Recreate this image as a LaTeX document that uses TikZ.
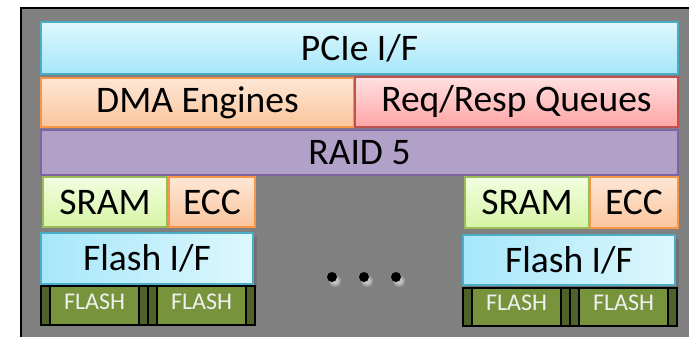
\documentclass[tikz,border=0pt]{standalone}
\usepackage{fontspec}
\setmainfont{Carlito}
\definecolor{panelgray}{HTML}{808080}
\definecolor{cyanTop}{HTML}{DEF7FD}
\definecolor{cyanBot}{HTML}{A6E7FA}
\definecolor{cyanEdge}{HTML}{4BACC6}
\definecolor{orTop}{HTML}{FDE7D6}
\definecolor{orBot}{HTML}{FBC59C}
\definecolor{orEdge}{HTML}{F79646}
\definecolor{pkTop}{HTML}{FFE1E1}
\definecolor{pkBot}{HTML}{FFA4A4}
\definecolor{pkEdge}{HTML}{C0504D}
\definecolor{raidFill}{HTML}{B1A0C7}
\definecolor{raidEdge}{HTML}{8064A2}
\definecolor{grTop}{HTML}{F2FDE0}
\definecolor{grBot}{HTML}{D6F5A5}
\definecolor{grEdge}{HTML}{9BBB59}
\definecolor{flashFill}{HTML}{77933C}
\definecolor{flashEnd}{HTML}{4F6228}
\tikzset{
  blk/.style={draw, line width=2pt, inner sep=0pt, outer sep=0pt, anchor=north west,
    font=\fontsize{37.5}{42}\selectfont, text=black},
  cyanblk/.style={blk, draw=cyanEdge, top color=cyanTop, bottom color=cyanBot},
  cyanside/.style={blk, draw=cyanEdge, left color=cyanBot, right color=cyanTop},
  orblk/.style={blk, draw=orEdge, top color=orTop, bottom color=orBot},
  pkblk/.style={blk, draw=pkEdge, top color=pkTop, bottom color=pkBot},
  raidblk/.style={blk, draw=raidEdge, fill=raidFill},
  grblk/.style={blk, draw=grEdge, top color=grTop, bottom color=grBot},
  brick/.style={draw=black, line width=1.5pt, fill=flashFill, inner sep=0pt, outer sep=0pt,
    anchor=north west, minimum width=107pt, minimum height=39pt,
    font=\fontsize{24}{26}\selectfont, text=white!94!black, text depth=8pt},
  brickend/.style={draw=black, line width=1.5pt, fill=flashEnd},
  softshadow/.style={fill=black, opacity=0.12},
}
\begin{document}
\begin{tikzpicture}[x=1pt, y=-1pt]
  \useasboundingbox (0,0) rectangle (689,337);
  \clip (0,0) rectangle (689,337);
  \fill[white] (0,0) rectangle (689,337);
  % grey chip outline
  \draw[line width=2pt, fill=panelgray] (21,8) rectangle (720,360);

  % host side stack
  \node[cyanblk, minimum width=637pt, minimum height=52pt] (pcie) at (41,22) {PCIe I/F};
  \node[orblk, minimum width=313pt, minimum height=49pt] (dma) at (41,78) {DMA Engines};
  \node[pkblk, minimum width=323pt, minimum height=50pt] (queues) at (355,77) {Req/Resp Queues};
  \node[raidblk, minimum width=637pt, minimum height=45pt] (raid) at (41,130) {RAID 5};

  % left flash channel
  \node[grblk, minimum width=124pt, minimum height=50pt] (sramL) at (43,177) {SRAM};
  \node[orblk, minimum width=86pt, minimum height=50pt] (eccL) at (169,177) {ECC};
  \fill[softshadow] (45,237) rectangle (257,288);
  \node[cyanside, minimum width=212pt, minimum height=51pt] (fifL) at (41,233) {Flash I/F};
  \node[brick] (flL1) at (41,286) {FLASH};
  \node[brick] (flL2) at (148,286) {FLASH};

  % right flash channel
  \node[grblk, minimum width=124pt, minimum height=51pt] (sramR) at (465,177) {SRAM};
  \node[orblk, minimum width=88pt, minimum height=51pt] (eccR) at (590,177) {ECC};
  \fill[softshadow] (467,239) rectangle (679,289);
  \node[cyanside, minimum width=212pt, minimum height=50pt] (fifR) at (463,235) {Flash I/F};
  \node[brick, minimum height=38pt] (flR1) at (463,288) {FLASH};
  \node[brick, minimum height=38pt] (flR2) at (570,288) {FLASH};

  % dark end caps on the flash packages
  \foreach \b in {flL1,flL2,flR1,flR2}{
    \draw[brickend] (\b.north west) rectangle ([xshift=9pt]\b.south west);
    \draw[brickend] ([xshift=-9pt]\b.north east) rectangle (\b.south east);
  }

  % ellipsis between channels
  \foreach \dx/\n in {332/dotA,364/dotB,396/dotC}{
    \fill[white, opacity=0.25] (\dx+3,281) circle (6pt);
    \fill[white, opacity=0.35] (\dx+3,281) circle (4pt);
    \node[circle, fill=black, inner sep=0pt, minimum size=10pt] (\n) at (\dx,277) {};
  }
\end{tikzpicture}
\end{document}
